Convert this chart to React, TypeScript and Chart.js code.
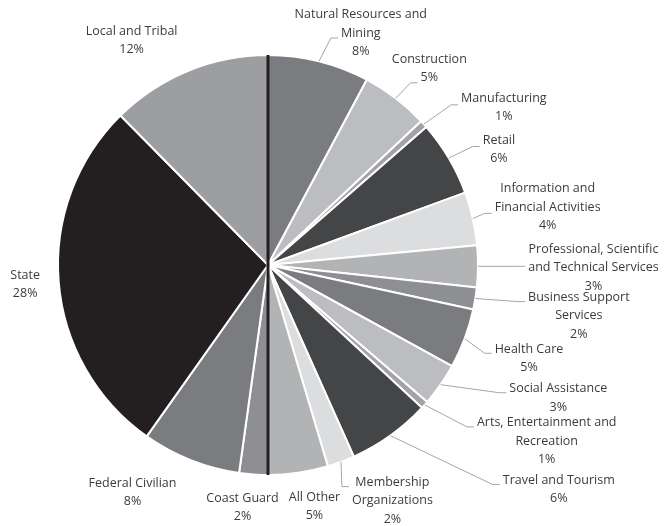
import React, { useEffect, useRef } from "react";
import { Chart, registerables } from "chart.js";

Chart.register(...registerables);

const categories = [
  "Natural Resources and\nMining",
  "Construction",
  "Manufacturing",
  "Retail",
  "Information and\nFinancial Activities",
  "Professional, Scientific\nand Technical Services",
  "Business Support\nServices",
  "Health Care",
  "Social Assistance",
  "Arts, Entertainment and\nRecreation",
  "Travel and Tourism",
  "Membership\nOrganizations",
  "All Other",
  "Coast Guard",
  "Federal Civilian",
  "State",
  "Local and Tribal",
];

const shares = [7.8, 5.2, 0.6, 5.8, 4.1, 3.2, 1.7, 4.6, 3.3, 0.6, 6.4, 2.1, 4.6, 2.2, 7.6, 27.8, 12.4];

const sliceColors = [
  "#7b7c7f", "#bcbdc0", "#a2a3a6", "#444547", "#dcdddf", "#b2b3b5", "#8e8f92",
  "#7b7c7f", "#bcbdc0", "#a2a3a6", "#444547", "#dcdddf", "#b2b3b5", "#8e8f92",
  "#7b7c7f", "#231f20", "#9d9ea1",
];

// label placement: angle (deg, clockwise from 12 o'clock) and distance as a factor of the radius
const labelAngles = [21.8, 39.4, 56.3, 63.4, 78.3, 90.5, 99.3, 109.7, 114.6, 122.3, 127.7, 152.2, 169.1, 186.0, 210.8, 265.5, 328.7];
const labelRadii = [1.19, 1.21, 1.35, 1.23, 1.36, 1.55, 1.5, 1.32, 1.52, 1.57, 1.75, 1.27, 1.17, 1.16, 1.26, 1.16, 1.25];
const leaderFlags = [1, 1, 1, 1, 1, 1, 1, 1, 1, 1, 1, 1, 0, 0, 0, 0, 0];
// index of the first public-sector slice (divider drawn at its start)
const dividerIndex = 13;

const FONT = "12.5px 'Open Sans', Lato, sans-serif";
const LINE_H = 18.3;

const labelPlugin = {
  id: "pieLabels",
  afterDatasetsDraw(chart: any) {
    const ctx = chart.ctx;
    const meta = chart.getDatasetMeta(0);
    const arcs = meta.data;
    if (!arcs.length) return;
    const cx = arcs[0].x;
    const cy = arcs[0].y;
    const R = arcs[0].outerRadius;

    // dividers
    ctx.save();
    ctx.strokeStyle = "#231f20";
    ctx.lineWidth = 3;
    [arcs[0].startAngle, arcs[dividerIndex].startAngle].forEach((a: number) => {
      ctx.beginPath();
      ctx.moveTo(cx, cy);
      ctx.lineTo(cx + R * Math.cos(a), cy + R * Math.sin(a));
      ctx.stroke();
    });
    ctx.restore();

    ctx.save();
    ctx.font = FONT;
    ctx.textAlign = "center";
    ctx.textBaseline = "middle";
    arcs.forEach((arc: any, i: number) => {
      const lines = categories[i].split("\n").concat([Math.round(shares[i]) + "%"]);
      const th = ((labelAngles[i] - 90) * Math.PI) / 180;
      const lx = cx + R * labelRadii[i] * Math.cos(th);
      const ly = cy + R * labelRadii[i] * Math.sin(th);
      const n = lines.length;
      const ys = lines.map((_, k) => ly + (k - (n - 1) / 2) * LINE_H);
      const widths = lines.map((t) => ctx.measureText(t).width);
      const maxW = Math.max(...widths);

      if (leaderFlags[i]) {
        const mid = (arc.startAngle + arc.endAngle) / 2;
        const ax = cx + R * Math.cos(mid);
        const ay = cy + R * Math.sin(mid);
        let ex = lx - maxW / 2 - 3;
        let ey = Math.min(Math.max(ay, ys[0] + 4), ys[n - 1] - 12);
        if (ex < ax + 8 && ay > ys[n - 1]) {
          for (let k = 1; k < n; k++) {
            const left = lx - widths[k] / 2 - 3;
            if (left >= ax + 8) {
              ex = left;
              ey = ys[k] + 5;
              break;
            }
          }
        }
        ctx.strokeStyle = "#a6a6a6";
        ctx.lineWidth = 1;
        ctx.beginPath();
        ctx.moveTo(ax, ay);
        ctx.lineTo(ex - 7, ey);
        ctx.lineTo(ex, ey);
        ctx.stroke();
      }

      ctx.fillStyle = "#3c3c3c";
      lines.forEach((t, k) => ctx.fillText(t, lx, ys[k]));
    });
    ctx.restore();
  },
};

export default function App() {
  const ref = useRef<HTMLCanvasElement | null>(null);
  useEffect(() => {
    if (!ref.current) return;
    const chart = new Chart(ref.current, {
      type: "pie",
      data: {
        labels: categories,
        datasets: [
          {
            data: shares,
            backgroundColor: sliceColors,
            borderColor: "#ffffff",
            borderWidth: 2,
            hoverOffset: 0,
            offset: 0,
          },
        ],
      },
      options: {
        animation: false,
        responsive: false,
        events: [],
        layout: { padding: { top: 54, bottom: 50, left: 57, right: 185 } },
        plugins: { legend: { display: false }, tooltip: { enabled: false } },
      },
      plugins: [labelPlugin],
    });
    return () => chart.destroy();
  }, []);
  return (
    <div style={{ position: "fixed", left: 0, top: 0, width: 664, height: 526, background: "#fff" }}>
      <canvas ref={ref} width={664} height={526} />
    </div>
  );
}
